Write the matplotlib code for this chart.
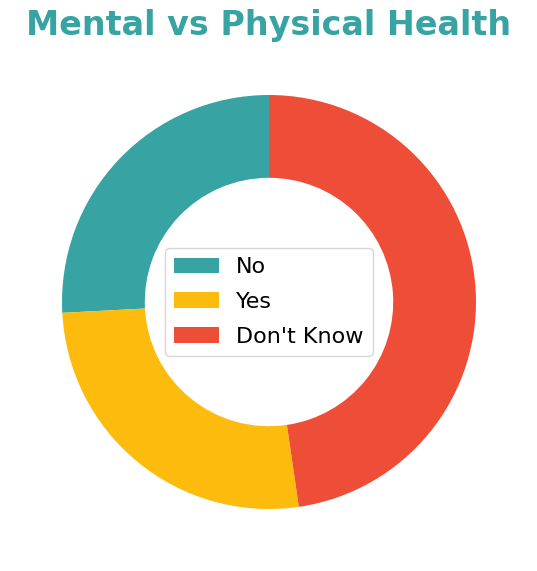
import matplotlib.pyplot as plt

labels = ["No", "Yes", "Don't Know"]
counts = [325, 333, 600]
colors = ["#37a3a2", "#fdbc0d", "#ee4e37"]

fig = plt.figure(figsize=(5.37, 5.71), dpi=100)
ax = fig.add_axes([62 / 537, 62 / 571, 414 / 537, 414 / 571])

wedges, _ = ax.pie(counts, colors=colors, startangle=90,
                   wedgeprops=dict(width=0.4))
ax.set_xlim(-1, 1)
ax.set_ylim(-1, 1)
ax.set_aspect("equal")

ax.legend(wedges, labels, loc="center", fontsize=16, labelspacing=0.66)
fig.suptitle("Mental vs Physical Health", fontsize=24, fontweight="bold",
             color="#37a3a2", y=0.985)

fig.savefig("out.png", dpi=100)
